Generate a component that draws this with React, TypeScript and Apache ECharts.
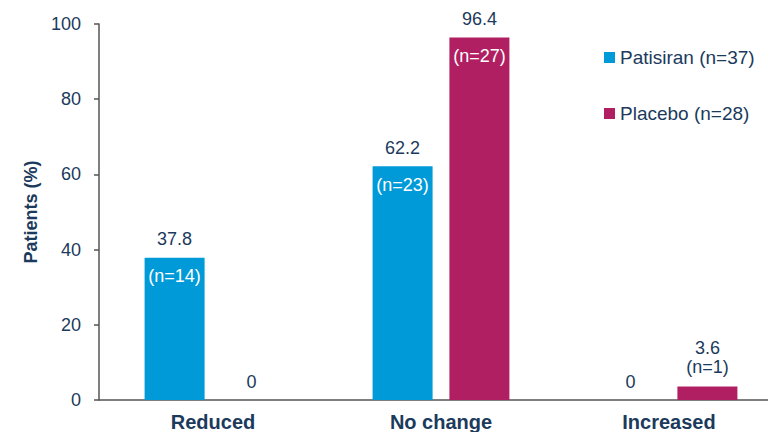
import React, { useEffect, useRef } from "react";
import * as echarts from "echarts";

const categories = ["Reduced", "No change", "Increased"];
const seriesNames = ["Patisiran (n=37)", "Placebo (n=28)"];
const patisiranValues = [37.8, 62.2, 0];
const placeboValues = [0, 96.4, 3.6];
const patisiranCounts = ["(n=14)", "(n=23)", ""];
const placeboCounts = ["", "(n=27)", "(n=1)"];
const yTicks = [0, 20, 40, 60, 80, 100];

const TEXT = "#1b3a5c";
const BLUE = "#009ad8";
const MAGENTA = "#b01f61";
const FONT = "Liberation Sans, Arial, sans-serif";
const FS = 18;

function makeData(values: number[], counts: string[]) {
  return values.map((v, i) => {
    const n = counts[i];
    if (v === 0) {
      return {
        value: v,
        label: {
          show: true,
          position: "top",
          distance: 9,
          formatter: String(v),
          color: TEXT,
          fontSize: FS,
          fontFamily: FONT,
        },
      };
    }
    if (v < 10) {
      return {
        value: v,
        label: {
          show: true,
          position: "top",
          distance: 10,
          formatter: `{v|${v}}\n{d|${n}}`,
          rich: {
            v: { color: TEXT, fontSize: FS, lineHeight: 19, fontFamily: FONT },
            d: { color: TEXT, fontSize: FS, lineHeight: 19, fontFamily: FONT },
          },
        },
      };
    }
    return {
      value: v,
      label: {
        show: true,
        position: "insideTop",
        distance: 0,
        offset: [0, -37],
        formatter: `{v|${v.toFixed(1)}}\n{w|${n}}`,
        rich: {
          v: { color: TEXT, fontSize: FS, lineHeight: 37, fontFamily: FONT },
          w: { color: "#ffffff", fontSize: FS, lineHeight: 37, fontFamily: FONT },
        },
      },
    };
  });
}

export default function App() {
  const ref = useRef<HTMLDivElement>(null);
  useEffect(() => {
    document.body.style.margin = "0";
    const chart = echarts.init(ref.current!, undefined, { renderer: "svg" });
    chart.setOption({
      animation: false,
      backgroundColor: "#ffffff",
      textStyle: { fontFamily: FONT },
      grid: { left: 99, right: 0, top: 24, bottom: 32 },
      legend: {
        orient: "vertical",
        left: 599,
        top: 43,
        itemWidth: 11,
        itemHeight: 11,
        itemGap: 37,
        icon: "rect",
        textStyle: { color: TEXT, fontSize: 19, fontFamily: FONT },
        data: seriesNames,
      },
      xAxis: {
        type: "category",
        data: categories,
        axisLine: { show: true, lineStyle: { color: "#555555", width: 1.5 } },
        axisTick: { show: false },
        axisLabel: {
          color: TEXT,
          fontSize: 20,
          fontWeight: "bold",
          fontFamily: FONT,
          margin: 12,
        },
      },
      yAxis: {
        type: "value",
        min: 0,
        max: 100,
        interval: 20,
        name: "Patients (%)",
        nameLocation: "middle",
        nameGap: 58,
        nameTextStyle: { color: TEXT, fontSize: 18, fontWeight: "bold", fontFamily: FONT },
        axisLine: { show: true, lineStyle: { color: "#555555", width: 1.5 } },
        axisTick: { show: true, length: 5, lineStyle: { color: "#555555", width: 1.5 } },
        splitLine: { show: false },
        axisLabel: {
          color: TEXT,
          fontSize: 18,
          fontFamily: FONT,
          margin: 18,
          formatter: (v: number) => (yTicks.includes(v) ? String(v) : ""),
        },
      },
      series: [
        {
          name: seriesNames[0],
          type: "bar",
          barWidth: 60,
          barGap: "28%",
          itemStyle: { color: BLUE },
          data: makeData(patisiranValues, patisiranCounts),
        },
        {
          name: seriesNames[1],
          type: "bar",
          barWidth: 60,
          barGap: "28%",
          itemStyle: { color: MAGENTA },
          data: makeData(placeboValues, placeboCounts),
        },
      ],
    });
    return () => chart.dispose();
  }, []);
  return (
    <div style={{ width: 768, height: 432, overflow: "hidden", position: "relative" }}>
      <div ref={ref} style={{ width: 783, height: 432 }} />
    </div>
  );
}
